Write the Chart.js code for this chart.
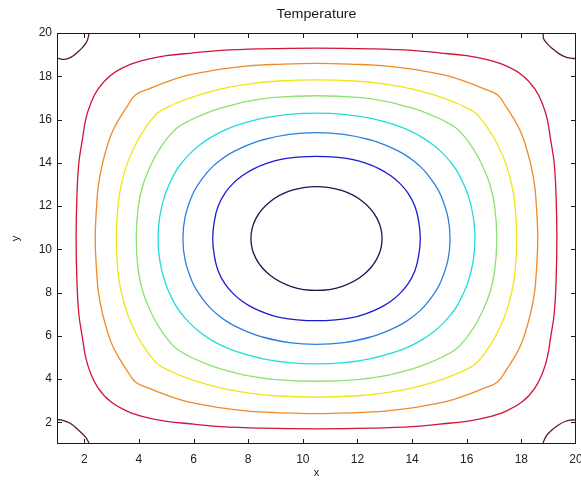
<!DOCTYPE html>
<html>
<head>
<meta charset="utf-8">
<script src="https://cdn.jsdelivr.net/npm/chart.js@4"></script>
<style>
html,body{margin:0;padding:0;background:#fff;}
#wrap{width:581px;height:483px;position:relative;}
</style>
</head>
<body>
<div id="wrap"><canvas id="c" width="581" height="483"></canvas></div>
<script>
// ---- data ----
const chartTitle = 'Temperature';
const xLabel = 'x';
const yLabel = 'y';
const xTicks = [2, 4, 6, 8, 10, 12, 14, 16, 18, 20];
const yTicks = [2, 4, 6, 8, 10, 12, 14, 16, 18, 20];

const contourNavy = [
  [8.1,10.5],[8.28,11.42],[8.8,12.2],[9.58,12.72],[10.5,12.9],[11.42,12.72],[12.2,12.2],[12.72,11.42],
  [12.9,10.5],[12.72,9.58],[12.2,8.8],[11.42,8.28],[10.5,8.1],[9.58,8.28],[8.8,8.8],[8.28,9.58],[8.1,10.5]
];
const contourBlue = [
  [6.7,10.5],[6.76,11.3],[6.9,12],[7.15,12.6],[7.45,13.05],[7.78,13.4],[8.2,13.72],[8.7,13.98],[9.2,14.16],[9.8,14.26],[10.5,14.3],
  [11.2,14.26],[11.8,14.16],[12.3,13.98],[12.8,13.72],[13.22,13.4],[13.55,13.05],[13.85,12.6],[14.1,12],[14.24,11.3],[14.3,10.5],
  [14.24,9.7],[14.1,9],[13.85,8.4],[13.55,7.95],[13.22,7.6],[12.8,7.28],[12.3,7.02],[11.8,6.84],[11.2,6.74],[10.5,6.7],
  [9.8,6.74],[9.2,6.84],[8.7,7.02],[8.2,7.28],[7.78,7.6],[7.45,7.95],[7.15,8.4],[6.9,9],[6.76,9.7],[6.7,10.5]
];
const contourLightBlue = [
  [5.61,10.5],[5.69,11.5],[5.95,12.5],[6.17,13],[6.46,13.5],[6.68,13.8],[6.93,14.07],[7.2,14.32],[7.5,14.54],[8,14.83],[8.5,15.05],[9.5,15.31],[10.5,15.39],
  [11.5,15.31],[12.5,15.05],[13,14.83],[13.5,14.54],[13.8,14.32],[14.07,14.07],[14.32,13.8],[14.54,13.5],[14.83,13],[15.05,12.5],[15.31,11.5],[15.39,10.5],
  [15.31,9.5],[15.05,8.5],[14.83,8],[14.54,7.5],[14.32,7.2],[14.07,6.93],[13.8,6.68],[13.5,6.46],[13,6.17],[12.5,5.95],[11.5,5.69],[10.5,5.61],
  [9.5,5.69],[8.5,5.95],[8,6.17],[7.5,6.46],[7.2,6.68],[6.93,6.93],[6.68,7.2],[6.46,7.5],[6.17,8],[5.95,8.5],[5.69,9.5],[5.61,10.5]
];
const contourCyan = [
  [4.7,10.5],[4.76,11.5],[4.95,12.5],[5.3,13.5],[5.57,14],[5.85,14.4],[6.2,14.8],[6.6,15.15],[7,15.43],[7.5,15.7],[8.5,16.05],[9.5,16.24],[10.5,16.3],
  [11.5,16.24],[12.5,16.05],[13.5,15.7],[14,15.43],[14.4,15.15],[14.8,14.8],[15.15,14.4],[15.43,14],[15.7,13.5],[16.05,12.5],[16.24,11.5],[16.3,10.5],
  [16.24,9.5],[16.05,8.5],[15.7,7.5],[15.43,7],[15.15,6.6],[14.8,6.2],[14.4,5.85],[14,5.57],[13.5,5.3],[12.5,4.95],[11.5,4.76],[10.5,4.7],
  [9.5,4.76],[8.5,4.95],[7.5,5.3],[7,5.57],[6.6,5.85],[6.2,6.2],[5.85,6.6],[5.57,7],[5.3,7.5],[4.95,8.5],[4.76,9.5],[4.7,10.5]
];
const contourGreen = [
  [3.9,10.5],[3.98,12.02],[4.16,13.03],[4.49,14.04],[4.72,14.56],[5.01,15.09],[5.39,15.61],[5.91,15.99],[6.44,16.28],[6.96,16.51],[7.97,16.84],[8.98,17.02],[10.5,17.1],
  [12.02,17.02],[13.03,16.84],[14.04,16.51],[14.56,16.28],[15.09,15.99],[15.61,15.61],[15.99,15.09],[16.28,14.56],[16.51,14.04],[16.84,13.03],[17.02,12.02],[17.1,10.5],
  [17.02,8.98],[16.84,7.97],[16.51,6.96],[16.28,6.44],[15.99,5.91],[15.61,5.39],[15.09,5.01],[14.56,4.72],[14.04,4.49],[13.03,4.16],[12.02,3.98],[10.5,3.9],
  [8.98,3.98],[7.97,4.16],[6.96,4.49],[6.44,4.72],[5.91,5.01],[5.39,5.39],[5.01,5.91],[4.72,6.44],[4.49,6.96],[4.16,7.97],[3.98,8.98],[3.9,10.5]
];
const contourYellow = [
  [3.17,10.5],[3.23,12.01],[3.36,13.02],[3.59,14.03],[3.96,15.05],[4.22,15.58],[4.4,15.9],[4.69,16.31],[5.1,16.6],[5.42,16.78],[5.95,17.04],[6.97,17.41],[7.98,17.64],[8.99,17.77],[10.5,17.83],
  [12.01,17.77],[13.02,17.64],[14.03,17.41],[15.05,17.04],[15.58,16.78],[15.9,16.6],[16.31,16.31],[16.6,15.9],[16.78,15.58],[17.04,15.05],[17.41,14.03],[17.64,13.02],[17.77,12.01],[17.83,10.5],
  [17.77,8.99],[17.64,7.98],[17.41,6.97],[17.04,5.95],[16.78,5.42],[16.6,5.1],[16.31,4.69],[15.9,4.4],[15.58,4.22],[15.05,3.96],[14.03,3.59],[13.02,3.36],[12.01,3.23],[10.5,3.17],
  [8.99,3.23],[7.98,3.36],[6.97,3.59],[5.95,3.96],[5.42,4.22],[5.1,4.4],[4.69,4.69],[4.4,5.1],[4.22,5.42],[3.96,5.95],[3.59,6.97],[3.36,7.98],[3.23,8.99],[3.17,10.5]
];
const contourOrange = [
  [2.4,10.5],[2.45,12],[2.52,13],[2.67,14],[2.9,15.02],[3.06,15.53],[3.28,16.04],[3.55,16.57],[3.87,17.13],[4.43,17.45],[4.96,17.72],[5.47,17.94],[5.98,18.1],[7,18.33],[8,18.48],[9,18.55],[10.5,18.6],
  [12,18.55],[13,18.48],[14,18.33],[15.02,18.1],[15.53,17.94],[16.04,17.72],[16.57,17.45],[17.13,17.13],[17.45,16.57],[17.72,16.04],[17.94,15.53],[18.1,15.02],[18.33,14],[18.48,13],[18.55,12],[18.6,10.5],
  [18.55,9],[18.48,8],[18.33,7],[18.1,5.98],[17.94,5.47],[17.72,4.96],[17.45,4.43],[17.13,3.87],[16.57,3.55],[16.04,3.28],[15.53,3.06],[15.02,2.9],[14,2.67],[13,2.52],[12,2.45],[10.5,2.4],
  [9,2.45],[8,2.52],[7,2.67],[5.98,2.9],[5.47,3.06],[4.96,3.28],[4.43,3.55],[3.87,3.87],[3.55,4.43],[3.28,4.96],[3.06,5.47],[2.9,5.98],[2.67,7],[2.52,8],[2.45,9],[2.4,10.5]
];
const contourRed = [
  [1.7,10.5],[1.73,12.5],[1.8,14],[1.92,15],[2.05,16],[2.22,16.7],[2.5,17.4],[2.96,18.04],[3.6,18.5],[4.3,18.78],[5,18.95],[6,19.08],[7,19.2],[8.5,19.27],[10.5,19.3],
  [12.5,19.27],[14,19.2],[15,19.08],[16,18.95],[16.7,18.78],[17.4,18.5],[18.04,18.04],[18.5,17.4],[18.78,16.7],[18.95,16],[19.08,15],[19.2,14],[19.27,12.5],[19.3,10.5],
  [19.27,8.5],[19.2,7],[19.08,6],[18.95,5],[18.78,4.3],[18.5,3.6],[18.04,2.96],[17.4,2.5],[16.7,2.22],[16,2.05],[15,1.92],[14,1.8],[12.5,1.73],[10.5,1.7],
  [8.5,1.73],[7,1.8],[6,1.92],[5,2.05],[4.3,2.22],[3.6,2.5],[2.96,2.96],[2.5,3.6],[2.22,4.3],[2.05,5],[1.92,6],[1.8,7],[1.73,8.5],[1.7,10.5]
];
const cornerTopLeft = [[1.0,18.84],[1.29,18.78],[1.54,18.9],[1.78,19.14],[1.96,19.37],[2.09,19.6],[2.15,19.83],[2.17,19.97]];
const cornerTopRight = [[18.8,19.97],[18.81,19.75],[18.94,19.52],[19.12,19.29],[19.36,19.06],[19.6,18.9],[19.85,18.83],[20,18.82]];
const cornerBottomRight = [[18.8,1.03],[18.81,1.1],[18.94,1.42],[19.12,1.65],[19.36,1.88],[19.6,2.04],[19.85,2.11],[20,2.12]];
const cornerBottomLeft = [[1.0,2.12],[1.17,2.11],[1.48,1.96],[1.78,1.65],[2.03,1.34],[2.15,1.1],[2.18,1.02]];

// ---- styling ----
const contours = [
  {pts: contourNavy, color: '#17174f', closed: true},
  {pts: contourBlue, color: '#1a1ad0', closed: true},
  {pts: contourLightBlue, color: '#2a80e0', closed: true},
  {pts: contourCyan, color: '#22dcdc', closed: true},
  {pts: contourGreen, color: '#8ee070', closed: true},
  {pts: contourYellow, color: '#f2e414', closed: true},
  {pts: contourOrange, color: '#f08a28', closed: true},
  {pts: contourRed, color: '#d0143a', closed: true},
  {pts: cornerTopLeft, color: '#5a1c22'},
  {pts: cornerTopRight, color: '#5a1c22'},
  {pts: cornerBottomRight, color: '#5a1c22'},
  {pts: cornerBottomLeft, color: '#5a1c22'}
];

const FONT = "'Liberation Sans', Arial, sans-serif";

// closed loops: wrap one neighbour on each end (used only to shape the spline at the seam;
// the two wrapped segments themselves are not drawn)
function loopPoints(pts, closed) {
  let p = pts;
  if (closed) p = [pts[pts.length - 2]].concat(pts, [pts[1]]);
  return p.map(q => ({x: q[0], y: q[1]}));
}

const datasets = contours.map(c => {
  const data = loopPoints(c.pts, c.closed);
  const lastSeg = data.length - 2;
  return {
    data,
    borderColor: c.color,
    borderWidth: 1.3,
    showLine: true,
    pointRadius: 0,
    tension: 0.4,
    fill: false,
    segment: c.closed ? {
      borderColor: s => (s.p0DataIndex === 0 || s.p0DataIndex === lastSeg) ? 'rgba(0,0,0,0)' : undefined
    } : {}
  };
});

const framePlugin = {
  id: 'frame',
  afterDraw(chart) {
    const ctx = chart.ctx;
    const a = chart.chartArea;
    const xs = chart.scales.x, ys = chart.scales.y;
    ctx.save();
    ctx.strokeStyle = '#1a1a1a';
    ctx.lineWidth = 1;
    ctx.strokeRect(Math.round(a.left) + 0.5, Math.round(a.top) + 0.5,
                   Math.round(a.right - a.left) - 1, Math.round(a.bottom - a.top) - 1);
    ctx.beginPath();
    const tl = 5;
    xTicks.forEach(v => {
      const px = Math.round(xs.getPixelForValue(v)) + 0.5;
      if (px > a.right - 2) return;
      ctx.moveTo(px, a.bottom); ctx.lineTo(px, a.bottom - tl);
      ctx.moveTo(px, a.top); ctx.lineTo(px, a.top + tl);
    });
    yTicks.forEach(v => {
      const py = Math.round(ys.getPixelForValue(v)) + 0.5;
      if (py < a.top + 2) return;
      ctx.moveTo(a.left, py); ctx.lineTo(a.left + tl, py);
      ctx.moveTo(a.right, py); ctx.lineTo(a.right - tl, py);
    });
    ctx.stroke();

    ctx.fillStyle = '#1a1a1a';
    ctx.textAlign = 'center';
    ctx.textBaseline = 'middle';
    ctx.font = '12px ' + FONT;
    const cx = (a.left + a.right) / 2;
    const w = ctx.measureText(chartTitle).width;
    ctx.save();
    ctx.translate(cx, 15);
    ctx.scale(80 / w, 1);
    ctx.fillText(chartTitle, 0, 0);
    ctx.restore();
    ctx.font = '11px ' + FONT;
    ctx.fillText(xLabel, cx, 473);
    ctx.save();
    ctx.translate(16, (a.top + a.bottom) / 2);
    ctx.rotate(-Math.PI / 2);
    ctx.fillText(yLabel, 0, 0);
    ctx.restore();
    ctx.restore();
  }
};

new Chart(document.getElementById('c'), {
  type: 'scatter',
  data: {datasets},
  options: {
    responsive: false,
    animation: false,
    events: [],
    layout: {padding: {top: 33, right: 5, left: 0, bottom: 0}},
    plugins: {legend: {display: false}, title: {display: false}, tooltip: {enabled: false}},
    scales: {
      x: {
        type: 'linear', min: 1, max: 20,
        afterBuildTicks: s => { s.ticks = xTicks.map(v => ({value: v})); },
        afterFit: s => { s.height = 39; s.paddingLeft = 0; s.paddingRight = 0; },
        grid: {display: false, drawTicks: false},
        border: {display: false},
        ticks: {autoSkip: false, maxRotation: 0, padding: 8, color: '#222', font: {family: FONT, size: 12}}
      },
      y: {
        type: 'linear', min: 1, max: 20,
        afterBuildTicks: s => { s.ticks = yTicks.map(v => ({value: v})); },
        afterFit: s => { s.width = 57; s.paddingTop = 0; s.paddingBottom = 0; },
        grid: {display: false, drawTicks: false},
        border: {display: false},
        ticks: {autoSkip: false, padding: 5, color: '#222', font: {family: FONT, size: 12}}
      }
    }
  },
  plugins: [framePlugin]
});
</script>
</body>
</html>
